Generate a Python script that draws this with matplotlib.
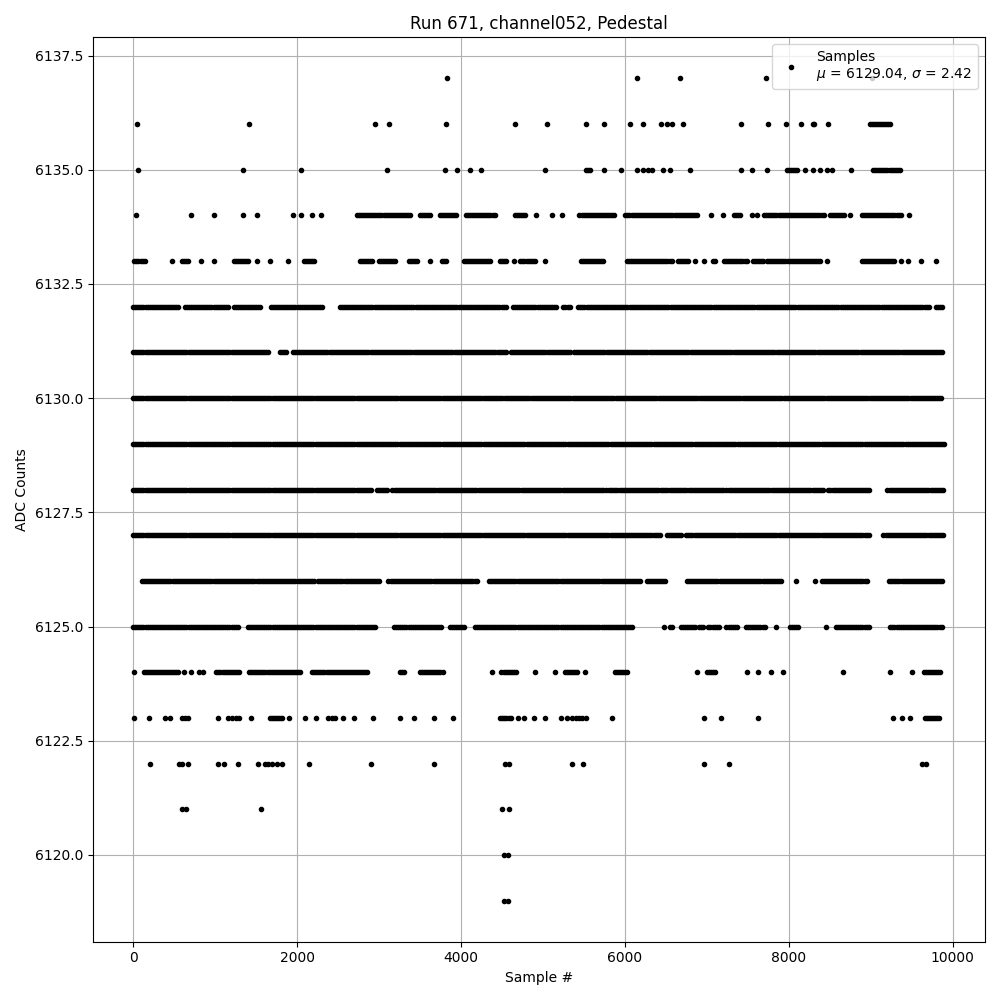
import numpy as np
import matplotlib
matplotlib.use("Agg")
import matplotlib.pyplot as plt

# ADC levels and where samples sit on each level (sample #)
# a number is a single sample, a pair is a run of consecutive samples
adc_levels = [6119, 6120, 6121, 6122, 6123, 6124, 6125, 6126, 6127, 6128,
              6129, 6130, 6131, 6132, 6133, 6134, 6135, 6136, 6137]

r6137 = [3825, 6154, 6671, 7727, 9020]
r6136 = [42, 1414, 2947, 3122, 3822, 4655, 5054, 5523, 5740, 6062, 6216, 6447,
         6510, 6580, 6706, 7413, 7742, 7966, 8155, 8290, 8310, 8484, (8990, 9240)]
r6135 = [56, 1337, 2044, 3094, 3808, 3948, 4109, 4249, 5026, (5530, 5590), 5740,
         5957, 6146, 6216, 6279, 6335, 6461, 6545, 6790, 7420, 7546, 7735,
         (7980, 8120), 8204, 8295, 8386, 8470, 8526, 8757, (9030, 9366)]
r6134 = [35, 700, 980, 1344, 1512, 1946, 2044, 2184, 2296, (2730, 3395),
         (3500, 3640), (3745, 3955), (4060, 4410), (4655, 4795), 4914, 5110, 5236,
         (5446, 5880), (6006, 6895), 7056, 7196, (7336, 7420), 7546, 7616,
         (7700, 8435), (8505, 8680), 8750, (8890, 9366), 9464]
r6133 = [(14, 140), 476, (595, 686), 826, 980, (1225, 1414), 1512, 1666, 1890,
         (2086, 2226), (2765, 2926), (2996, 3220), (3360, 3472), 3626, (3766, 3836),
         (4032, 4375), (4480, 4564), 4648, (4725, 4900), 5026, (5460, 5740),
         (6020, 6580), (6650, 6790), 6860, 6965, (7070, 7105), (7210, 7490),
         (7560, 7700), (7735, 8400), 8470, (8890, 9310), 9366, 9450, 9611, 9800]
r6132 = [(0, 560), (630, 1155), (1225, 1554), (1680, 2324), (2520, 4550),
         (4634, 5180), (5250, 5334), (5432, 9716), (9800, 9884)]
r6131 = [(0, 1666), (1792, 1890), (1946, 4550), (4606, 5334), (5376, 9884)]
r6130 = [(0, 4500), (4536, 9884)]
r6129 = [(0, 9900)]
r6128 = [(0, 2905), (2975, 3115), (3164, 5775), (5810, 6510), (6552, 7210),
         (7240, 8435), (8484, 8995), (9205, 9884)]
r6127 = [(0, 6440), (6510, 6706), (6750, 8995), (9156, 9900)]
r6126 = [(105, 2226), (2254, 3024), (3115, 4200), (4340, 6195), (6265, 6510),
         (6755, 7910), 8085, 8316, (8400, 8974), (9226, 9900)]
r6125 = [(0, 1295), (1400, 2954), (3185, 3780), (3864, 4060), (4165, 6090), 6475,
         6545, 6580, (6680, 6860), (6900, 6960), (7020, 7160), (7240, 7370),
         (7480, 7720), 7840, (8015, 8134), 8456, (8575, 8995), (9240, 9884)]
r6124 = [14, (126, 560), 620, 700, 805, 854, (1015, 1295), (1414, 2044),
         (2184, 2870), (3255, 3325), (3500, 3794), 4375, (4494, 4690), 4900, 5145,
         (5264, 5425), 5516, (5880, 6034), 6881, (7000, 7105), 7490, 7630, 7784,
         7924, 8666, 9240, 9506, (9646, 9856)]
r6123 = [14, 189, 385, 455, 595, 630, 665, 1036, 1155, 1200, 1250, 1295, 1435,
         (1666, 1820), 1904, 2100, 2226, 2380, 2420, 2464, 2555, 2695, 2926, 3255,
         3430, 3675, 3899, (4480, 4606), 4690, 4774, 4886, 5026, 5215, 5290, 5360,
         5400, 5440, 5480, 5530, 5845, 6965, 7175, 7630, 9275, 9380, 9485,
         (9660, 9856)]
r6122 = [210, 560, 600, 665, 1036, 1106, 1274, 1526, 1610, 1650, 1690, 1760,
         1820, 2149, 2905, 3675, 4536, 4592, 5355, 5495, 6965, 7266, 9625, 9674]
r6121 = [590, 650, 1560, 4500, 4580]
r6120 = [4522, 4578]
r6119 = [4522, 4578]

level_samples = [r6119, r6120, r6121, r6122, r6123, r6124, r6125, r6126, r6127,
                 r6128, r6129, r6130, r6131, r6132, r6133, r6134, r6135, r6136,
                 r6137]

xs, ys = [], []
for lvl, entries in zip(adc_levels, level_samples):
    for e in entries:
        if isinstance(e, tuple):
            pts = np.arange(e[0], e[1] + 1, 25)
        else:
            pts = np.array([e])
        xs.append(pts)
        ys.append(np.full(len(pts), lvl))
x = np.concatenate(xs)
y = np.concatenate(ys)

fig, ax = plt.subplots(figsize=(10, 10))
ax.plot(x, y, 'k.', label="Samples\n$\\mu$ = 6129.04, $\\sigma$ = 2.42")
ax.set_title("Run 671, channel052, Pedestal")
ax.set_xlabel("Sample #")
ax.set_ylabel("ADC Counts")
ax.grid(True)
ax.legend(loc="upper right")
plt.tight_layout()
plt.savefig("out.png", dpi=100)
